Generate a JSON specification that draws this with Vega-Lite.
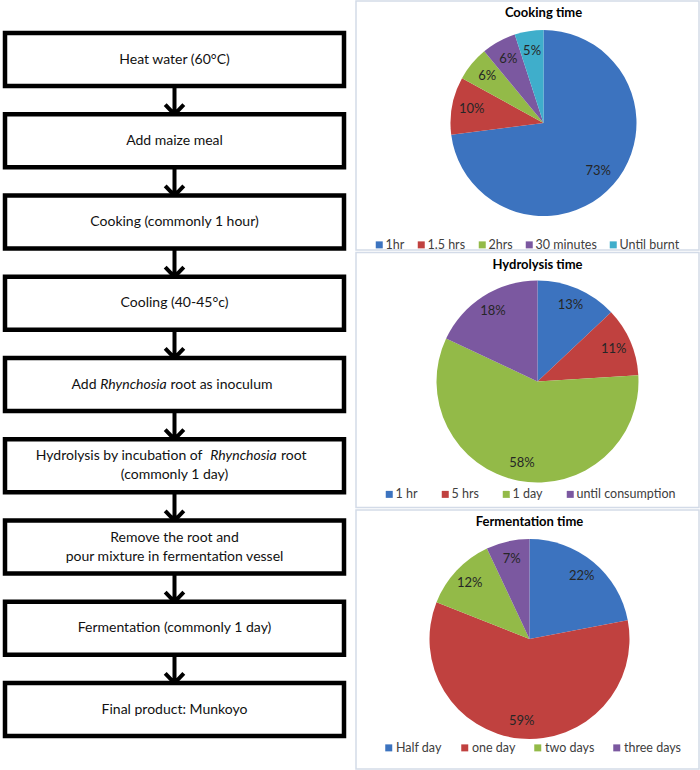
{
  "$schema": "https://vega.github.io/schema/vega-lite/v6.json",
  "padding": {"left": 2, "top": 0, "right": 0, "bottom": 0},
  "background": "white",
  "bounds": "flush",
  "spacing": 12,
  "config": {"view": {"stroke": null}, "font": "Lato"},
  "resolve": {"scale": {"color": "independent", "theta": "independent", "x": "independent", "y": "independent"}, "legend": {"color": "independent"}},
  "hconcat": [
    {
      "width": 339,
      "height": 767,
      "data": {"values": [
        {"step": 1, "label": "Heat water (60°C)"},
        {"step": 2, "label": "Add maize meal"},
        {"step": 3, "label": "Cooking (commonly 1 hour)"},
        {"step": 4, "label": "Cooling (40-45°c)"},
        {"step": 5, "label": "Add Rhynchosia root as inoculum"},
        {"step": 6, "label": "Hydrolysis by incubation of  Rhynchosia root\n(commonly 1 day)"},
        {"step": 7, "label": "Remove the root and\npour mixture in fermentation vessel"},
        {"step": 8, "label": "Fermentation (commonly 1 day)"},
        {"step": 9, "label": "Final product: Munkoyo"}
      ]},
      "encoding": {
        "y": {"field": "step", "type": "ordinal", "scale": {"type": "band", "paddingInner": 0.35, "paddingOuter": 0.395}, "axis": null}
      },
      "layer": [
        {
          "transform": [{"filter": "datum.step < 9"}],
          "mark": {"type": "point", "shape": "M0,-1.1L0,0.9M-0.62,0.3L0,0.95L0.62,0.3", "filled": false, "stroke": "black", "strokeWidth": 4, "size": 900, "opacity": 1, "strokeJoin": "miter", "strokeCap": "butt"},
          "encoding": {
            "y": {"field": "step", "type": "ordinal", "bandPosition": 1.27, "axis": null},
            "x": {"datum": 0.5, "type": "quantitative", "scale": {"domain": [0, 1]}, "axis": null}
          }
        },
        {
          "mark": {"type": "rect", "fill": "white", "stroke": "black", "strokeWidth": 4.5}
        },
        {
          "transform": [{"filter": "indexof(datum.label, '\\n') < 0 && datum.step != 5"}],
          "mark": {"type": "text", "fontSize": 14, "color": "#111111"},
          "encoding": {"text": {"field": "label"}}
        },
        {
          "transform": [{"filter": "datum.step == 7"}],
          "mark": {"type": "text", "fontSize": 14, "lineBreak": "\n", "lineHeight": 19, "dy": -9.5, "color": "#111111"},
          "encoding": {"text": {"field": "label"}}
        },
        {
          "transform": [{"filter": "datum.step == 5"}],
          "mark": {"type": "text", "fontSize": 14, "color": "#111111", "align": "right", "dx": -78, "text": "Add"}
        },
        {
          "transform": [{"filter": "datum.step == 5"}],
          "mark": {"type": "text", "fontSize": 14, "color": "#111111", "align": "center", "dx": -41, "fontStyle": "italic", "text": "Rhynchosia"}
        },
        {
          "transform": [{"filter": "datum.step == 5"}],
          "mark": {"type": "text", "fontSize": 14, "color": "#111111", "align": "left", "dx": -4, "text": "root as inoculum"}
        },
        {
          "transform": [{"filter": "datum.step == 6"}],
          "mark": {"type": "text", "fontSize": 14, "color": "#111111", "align": "right", "dx": 28, "dy": -9.5, "text": "Hydrolysis by incubation of"}
        },
        {
          "transform": [{"filter": "datum.step == 6"}],
          "mark": {"type": "text", "fontSize": 14, "color": "#111111", "align": "center", "dx": 69, "dy": -9.5, "fontStyle": "italic", "text": "Rhynchosia"}
        },
        {
          "transform": [{"filter": "datum.step == 6"}],
          "mark": {"type": "text", "fontSize": 14, "color": "#111111", "align": "left", "dx": 106.5, "dy": -9.5, "text": "root"}
        },
        {
          "transform": [{"filter": "datum.step == 6"}],
          "mark": {"type": "text", "fontSize": 14, "color": "#111111", "align": "center", "dy": 9.5, "text": "(commonly 1 day)"}
        }
      ]
    },
    {
      "vconcat": [
        {
          "width": 343,
          "height": 249,
          "view": {"stroke": "#d3dbe8", "strokeWidth": 1.5},
          "title": {"text": "Cooking time", "offset": -19, "dx": 16, "fontSize": 13, "fontWeight": "bold", "color": "#000000"},
          "data": {"values": [
            {"cat": "1hr", "share": 0.73, "k": 1},
            {"cat": "1.5 hrs", "share": 0.10, "k": 2},
            {"cat": "2hrs", "share": 0.06, "k": 3},
            {"cat": "30 minutes", "share": 0.06, "k": 4},
            {"cat": "Until burnt", "share": 0.05, "k": 5}
          ]},
          "encoding": {
            "theta": {"field": "share", "type": "quantitative", "stack": true},
            "order": {"field": "k", "type": "quantitative"}
          },
          "layer": [
            {
              "mark": {"type": "arc", "outerRadius": 93, "xOffset": 16, "yOffset": -2.5},
              "encoding": {
                "color": {"field": "cat", "type": "nominal",
                  "scale": {"domain": ["1hr", "1.5 hrs", "2hrs", "30 minutes", "Until burnt"], "range": ["#3c73bf", "#c0413f", "#93ba48", "#7b58a0", "#3faecb"]},
                  "legend": {"orient": "none", "legendX": 17, "legendY": 237.5, "direction": "horizontal", "title": null, "symbolType": "square", "symbolSize": 49, "symbolStrokeWidth": 0, "labelFontSize": 12.5, "labelColor": "#404040", "columnPadding": 10, "labelOffset": 0, "padding": 0}
                }
              }
            },
            {
              "mark": {"type": "text", "radius": 73, "xOffset": 16, "yOffset": -2.5, "fontSize": 13, "color": "#262626"},
              "encoding": {"text": {"field": "share", "format": ".0%"}, "detail": {"field": "cat"}}
            }
          ]
        },
        {
          "width": 343,
          "height": 255,
          "view": {"stroke": "#d3dbe8", "strokeWidth": 1.5},
          "title": {"text": "Hydrolysis time", "offset": -19, "dx": 10, "fontSize": 13, "fontWeight": "bold", "color": "#000000"},
          "data": {"values": [
            {"cat": "1 hr", "share": 0.13, "k": 1},
            {"cat": "5 hrs", "share": 0.11, "k": 2},
            {"cat": "1 day", "share": 0.58, "k": 3},
            {"cat": "until consumption", "share": 0.18, "k": 4}
          ]},
          "encoding": {
            "theta": {"field": "share", "type": "quantitative", "stack": true},
            "order": {"field": "k", "type": "quantitative"}
          },
          "layer": [
            {
              "mark": {"type": "arc", "outerRadius": 101, "xOffset": 10, "yOffset": 1.5},
              "encoding": {
                "color": {"field": "cat", "type": "nominal",
                  "scale": {"domain": ["1 hr", "5 hrs", "1 day", "until consumption"], "range": ["#3c73bf", "#c0413f", "#93ba48", "#7b58a0"]},
                  "legend": {"orient": "none", "legendX": 27, "legendY": 235.5, "direction": "horizontal", "title": null, "symbolType": "square", "symbolSize": 49, "symbolStrokeWidth": 0, "labelFontSize": 12.5, "labelColor": "#404040", "columnPadding": 21, "labelOffset": 0, "padding": 0}
                }
              }
            },
            {
              "mark": {"type": "text", "radius": 83, "xOffset": 10, "yOffset": 1.5, "fontSize": 13, "color": "#262626"},
              "encoding": {"text": {"field": "share", "format": ".0%"}, "detail": {"field": "cat"}}
            }
          ]
        },
        {
          "width": 343,
          "height": 259,
          "view": {"stroke": "#d3dbe8", "strokeWidth": 1.5},
          "title": {"text": "Fermentation time", "offset": -19, "dx": 2, "fontSize": 13, "fontWeight": "bold", "color": "#000000"},
          "data": {"values": [
            {"cat": "Half day", "share": 0.22, "k": 1},
            {"cat": "one day", "share": 0.59, "k": 2},
            {"cat": "two days", "share": 0.12, "k": 3},
            {"cat": "three days", "share": 0.07, "k": 4}
          ]},
          "encoding": {
            "theta": {"field": "share", "type": "quantitative", "stack": true},
            "order": {"field": "k", "type": "quantitative"}
          },
          "layer": [
            {
              "mark": {"type": "arc", "outerRadius": 100, "xOffset": 2, "yOffset": -0.5},
              "encoding": {
                "color": {"field": "cat", "type": "nominal",
                  "scale": {"domain": ["Half day", "one day", "two days", "three days"], "range": ["#3c73bf", "#c0413f", "#93ba48", "#7b58a0"]},
                  "legend": {"orient": "none", "legendX": 26.5, "legendY": 231.5, "direction": "horizontal", "title": null, "symbolType": "square", "symbolSize": 49, "symbolStrokeWidth": 0, "labelFontSize": 12.5, "labelColor": "#404040", "columnPadding": 16, "labelOffset": 1, "padding": 0}
                }
              }
            },
            {
              "mark": {"type": "text", "radius": 82, "xOffset": 2, "yOffset": -0.5, "fontSize": 13, "color": "#262626"},
              "encoding": {"text": {"field": "share", "format": ".0%"}, "detail": {"field": "cat"}}
            }
          ]
        }
      ],
      "spacing": 2.5,
      "bounds": "flush",
      "resolve": {"scale": {"color": "independent", "theta": "independent"}, "legend": {"color": "independent"}}
    }
  ]
}
